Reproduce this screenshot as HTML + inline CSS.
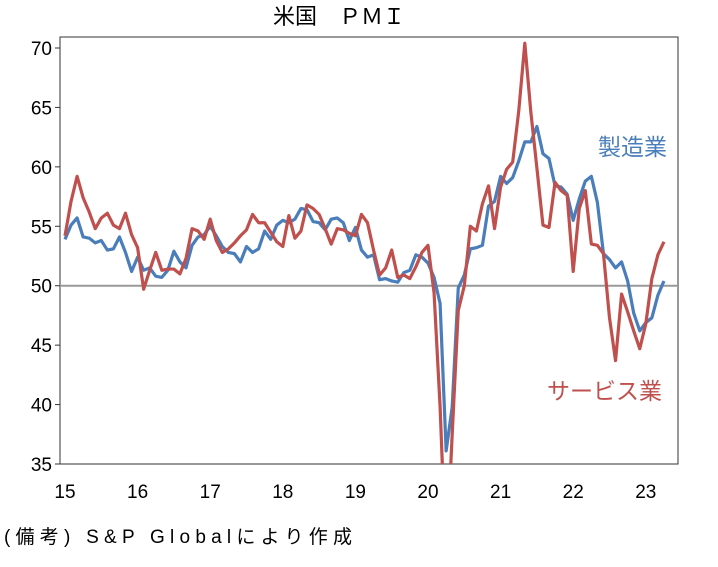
<!DOCTYPE html>
<html><head><meta charset="utf-8"><style>
body{margin:0;background:#fff;width:718px;height:562px;overflow:hidden}
svg text{font-family:"Liberation Sans","Noto Sans CJK JP",sans-serif}
</style></head><body>
<svg width="718" height="562">
<text x="339" y="24" font-size="22" text-anchor="middle">米国　ＰＭＩ</text>
<rect x="60" y="37" width="618" height="427" fill="none" stroke="#333" stroke-width="1"/>
<g id="yaxis"></g><g id="xaxis"></g><g id="lines"></g>
<text x="598" y="155" font-size="23" fill="#4a7ebb">製造業</text>
<text x="547" y="399" font-size="23" fill="#c0504d">サービス業</text>
<text x="4" y="543" font-size="19" font-family="DejaVu Sans Mono,Noto Sans CJK JP,monospace" textLength="348">(備考) S&amp;P Globalにより作成</text>
</svg>
<script>
const yTicks=[35,40,45,50,55,60,65,70];
const xLabels=["15","16","17","18","19","20","21","22","23"];
const manufacturing=[53.9,55.1,55.7,54.1,54.0,53.6,53.8,53.0,53.1,54.1,52.8,51.2,
52.4,51.3,51.5,50.8,50.7,51.3,52.9,52.0,51.5,53.4,54.1,54.3,
55.0,54.2,53.3,52.8,52.7,52.0,53.3,52.8,53.1,54.6,53.9,55.1,
55.5,55.3,55.6,56.5,56.4,55.4,55.3,54.7,55.6,55.7,55.3,53.8,
54.9,53.0,52.4,52.6,50.5,50.6,50.4,50.3,51.1,51.3,52.6,52.4,
51.9,50.7,48.5,36.1,39.8,49.8,50.9,53.1,53.2,53.4,56.7,57.1,
59.2,58.6,59.1,60.5,62.1,62.1,63.4,61.1,60.7,58.4,58.3,57.7,
55.5,57.3,58.8,59.2,57.0,52.7,52.2,51.5,52.0,50.4,47.7,46.2,
46.9,47.3,49.2,50.4];
const services=[54.2,57.1,59.2,57.4,56.2,54.8,55.7,56.1,55.1,54.8,56.1,54.3,
53.2,49.7,51.3,52.8,51.3,51.4,51.4,51.0,52.3,54.8,54.6,53.9,
55.6,53.8,52.8,53.1,53.6,54.2,54.7,56.0,55.3,55.3,54.5,53.7,
53.3,55.9,54.0,54.6,56.8,56.5,56.0,54.8,53.5,54.8,54.7,54.4,
54.2,56.0,55.3,53.0,50.9,51.5,53.0,50.7,50.9,50.6,51.6,52.8,
53.4,49.4,39.8,26.7,37.5,47.9,50.0,55.0,54.6,56.9,58.4,54.8,
58.3,59.8,60.4,64.7,70.4,64.6,59.9,55.1,54.9,58.7,58.0,57.6,
51.2,56.5,58.0,53.5,53.4,52.7,47.3,43.7,49.3,47.8,46.2,44.7,
46.8,50.6,52.6,53.7];
const NS="http://www.w3.org/2000/svg";
const y=v=>464-(v-35)*(416/35);
const x=i=>65+i*6.05;
function mk(t,a,p){const e=document.createElementNS(NS,t);for(const k in a)e.setAttribute(k,a[k]);p.appendChild(e);return e;}
const ya=document.getElementById('yaxis');
yTicks.forEach(v=>{
 const l=mk('line',{x1:55,x2:60,y1:y(v),y2:y(v),stroke:'#333'},ya);
 
 
 const t=mk('text',{x:52,y:y(v)+7,'font-size':19,'text-anchor':'end'},ya);t.textContent=v;
 
 
});
const g=mk('line',{x1:60,x2:678,y1:y(50),y2:y(50),stroke:'#999','stroke-width':2},ya);


const xa=document.getElementById('xaxis');
xLabels.forEach((s,i)=>{
 const t=mk('text',{x:x(i*12),y:498,'font-size':19,'text-anchor':'middle'},xa);t.textContent=s;
 
 
});
const L=document.getElementById('lines');
const cp=mk('clipPath',{id:'cp'},L);mk('rect',{x:60,y:37,width:618,height:427},cp);
function line(d,c,n){
 const p=mk('polyline',{points:d.map((v,i)=>x(i)+','+y(v)).join(' '),fill:'none',stroke:c,'stroke-width':3.2,'stroke-linejoin':'round','clip-path':'url(#cp)'},L);
 
 
}
line(manufacturing,'#4a7ebb','manufacturing-line');
line(services,'#c0504d','services-line');
</script>
</body></html>
